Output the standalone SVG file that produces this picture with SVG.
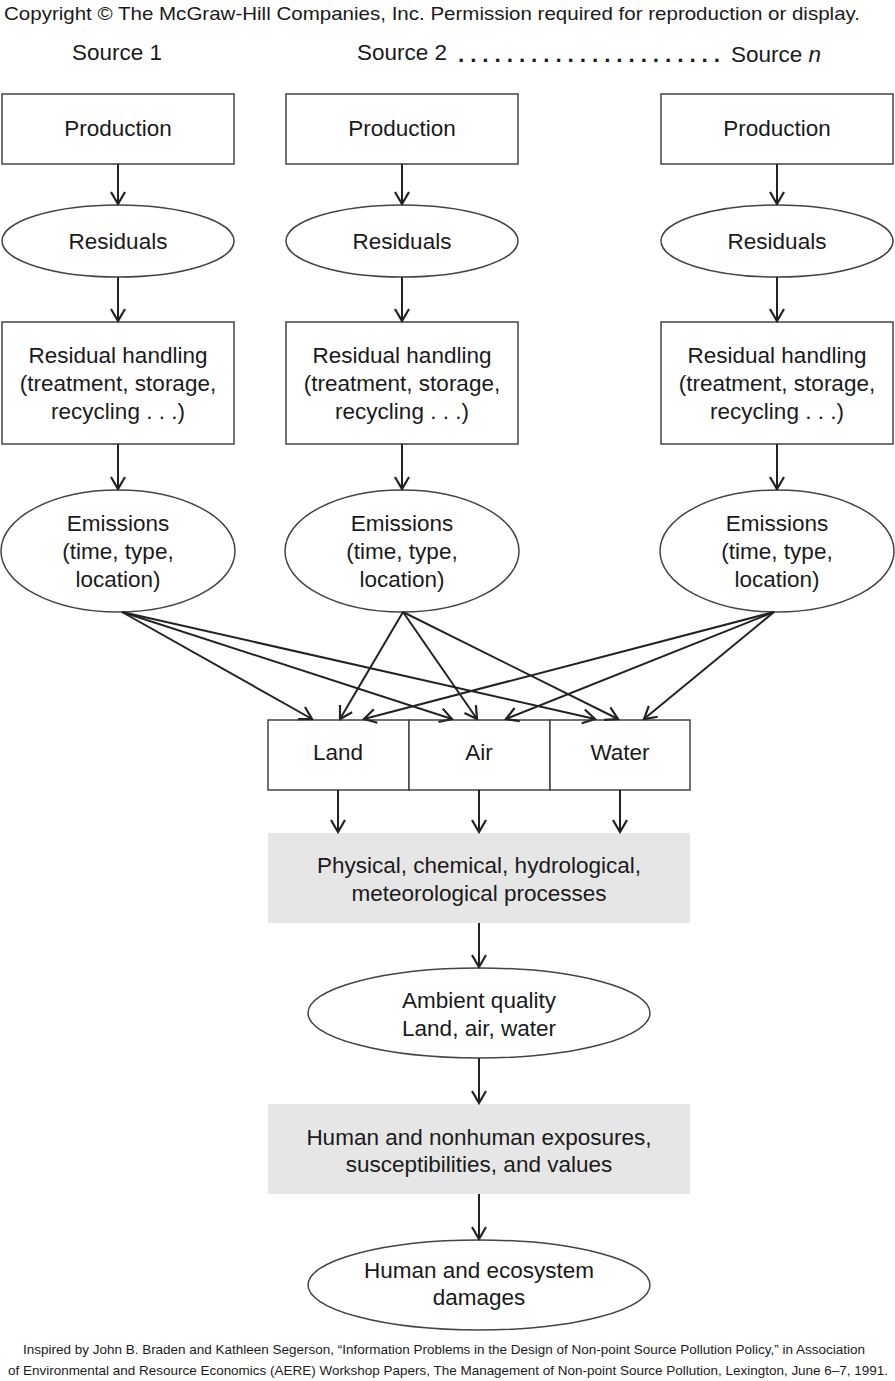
<svg xmlns="http://www.w3.org/2000/svg" width="895" height="1381" viewBox="0 0 895 1381">
<style>
text{font-family:"Liberation Sans",Arial,sans-serif;fill:#1a1a1a}
.t{font-size:22.5px;text-anchor:middle}
.box{fill:#fff;stroke:#444;stroke-width:1.5}
.grey{fill:#e6e6e6;stroke:none}
.edge{stroke:#222;stroke-width:2;fill:none;marker-end:url(#ah)}
.small{font-size:13.5px}
</style>
<defs>
<marker id="ah" viewBox="0 0 18 18" refX="16" refY="9" markerWidth="18" markerHeight="18" markerUnits="userSpaceOnUse" orient="auto">
<polyline points="4,2 16,9 4,16" fill="none" stroke="#222" stroke-width="2.2"/>
</marker>
</defs>
<rect width="895" height="1381" fill="#fff"/>

<g id="header">
<text x="432" y="20" style="font-size:19px" text-anchor="middle" textLength="856" lengthAdjust="spacingAndGlyphs">Copyright © The McGraw-Hill Companies, Inc. Permission required for reproduction or display.</text>
<text class="t" x="117" y="60">Source 1</text>
<text class="t" x="402" y="60">Source 2</text>
<text x="458" y="62" style="font-size:22.5px;font-weight:bold" textLength="262" lengthAdjust="spacing">......................</text>
<text x="731" y="62" style="font-size:22.5px">Source <tspan font-style="italic">n</tspan></text>
</g>

<g id="prod1"><rect class="box" x="2" y="94" width="232" height="70"/><text class="t" x="118" y="136">Production</text></g>
<g id="prod2"><rect class="box" x="286" y="94" width="232" height="70"/><text class="t" x="402" y="136">Production</text></g>
<g id="prod3"><rect class="box" x="661" y="94" width="232" height="70"/><text class="t" x="777" y="136">Production</text></g>

<g id="res1"><ellipse class="box" cx="118" cy="241" rx="116" ry="36"/><text class="t" x="118" y="249">Residuals</text></g>
<g id="res2"><ellipse class="box" cx="402" cy="241" rx="116" ry="36"/><text class="t" x="402" y="249">Residuals</text></g>
<g id="res3"><ellipse class="box" cx="777" cy="241" rx="116" ry="36"/><text class="t" x="777" y="249">Residuals</text></g>

<g id="hand1"><rect class="box" x="2" y="322" width="232" height="122"/><text class="t" x="118" y="363">Residual handling</text><text class="t" x="118" y="391">(treatment, storage,</text><text class="t" x="118" y="419">recycling . . .)</text></g>
<g id="hand2"><rect class="box" x="286" y="322" width="232" height="122"/><text class="t" x="402" y="363">Residual handling</text><text class="t" x="402" y="391">(treatment, storage,</text><text class="t" x="402" y="419">recycling . . .)</text></g>
<g id="hand3"><rect class="box" x="661" y="322" width="232" height="122"/><text class="t" x="777" y="363">Residual handling</text><text class="t" x="777" y="391">(treatment, storage,</text><text class="t" x="777" y="419">recycling . . .)</text></g>

<g id="em1"><ellipse class="box" cx="118" cy="551" rx="117" ry="61"/><text class="t" x="118" y="531">Emissions</text><text class="t" x="118" y="559">(time, type,</text><text class="t" x="118" y="587">location)</text></g>
<g id="em2"><ellipse class="box" cx="402" cy="551" rx="117" ry="61"/><text class="t" x="402" y="531">Emissions</text><text class="t" x="402" y="559">(time, type,</text><text class="t" x="402" y="587">location)</text></g>
<g id="em3"><ellipse class="box" cx="777" cy="551" rx="117" ry="61"/><text class="t" x="777" y="531">Emissions</text><text class="t" x="777" y="559">(time, type,</text><text class="t" x="777" y="587">location)</text></g>

<g id="land"><rect class="box" x="268" y="720" width="141" height="70"/><text class="t" x="338" y="760">Land</text></g>
<g id="air"><rect class="box" x="409" y="720" width="141" height="70"/><text class="t" x="479" y="760">Air</text></g>
<g id="water"><rect class="box" x="550" y="720" width="140" height="70"/><text class="t" x="620" y="760">Water</text></g>

<g id="processes"><rect class="grey" x="268" y="833" width="422" height="90"/><text class="t" x="479" y="873">Physical, chemical, hydrological,</text><text class="t" x="479" y="901">meteorological processes</text></g>
<g id="ambient"><ellipse class="box" cx="479" cy="1013" rx="171" ry="45"/><text class="t" x="479" y="1008">Ambient quality</text><text class="t" x="479" y="1036">Land, air, water</text></g>
<g id="exposures"><rect class="grey" x="268" y="1104" width="422" height="90"/><text class="t" x="479" y="1145">Human and nonhuman exposures,</text><text class="t" x="479" y="1172">susceptibilities, and values</text></g>
<g id="damages"><ellipse class="box" cx="479" cy="1285" rx="171" ry="45"/><text class="t" x="479" y="1278">Human and ecosystem</text><text class="t" x="479" y="1305">damages</text></g>

<g id="connectors">
<line class="edge" x1="118" y1="164" x2="118" y2="204"/>
<line class="edge" x1="402" y1="164" x2="402" y2="204"/>
<line class="edge" x1="777" y1="164" x2="777" y2="204"/>
<line class="edge" x1="118" y1="277" x2="118" y2="321"/>
<line class="edge" x1="402" y1="277" x2="402" y2="321"/>
<line class="edge" x1="777" y1="277" x2="777" y2="321"/>
<line class="edge" x1="118" y1="444" x2="118" y2="489"/>
<line class="edge" x1="402" y1="444" x2="402" y2="489"/>
<line class="edge" x1="777" y1="444" x2="777" y2="489"/>

<line class="edge" x1="122" y1="612" x2="312" y2="719"/>
<line class="edge" x1="122" y1="612" x2="452" y2="719"/>
<line class="edge" x1="122" y1="612" x2="595" y2="719"/>
<line class="edge" x1="403" y1="612" x2="340" y2="719"/>
<line class="edge" x1="403" y1="612" x2="477" y2="719"/>
<line class="edge" x1="403" y1="612" x2="618" y2="719"/>
<line class="edge" x1="774" y1="612" x2="364" y2="719"/>
<line class="edge" x1="774" y1="612" x2="506" y2="719"/>
<line class="edge" x1="774" y1="612" x2="644" y2="719"/>

<line class="edge" x1="338" y1="790" x2="338" y2="832"/>
<line class="edge" x1="479" y1="790" x2="479" y2="832"/>
<line class="edge" x1="620" y1="790" x2="620" y2="832"/>
<line class="edge" x1="479" y1="923" x2="479" y2="967"/>
<line class="edge" x1="479" y1="1058" x2="479" y2="1103"/>
<line class="edge" x1="479" y1="1194" x2="479" y2="1239"/>
</g>

<g id="caption">
<text class="small" x="444" y="1354" text-anchor="middle" textLength="842" lengthAdjust="spacingAndGlyphs">Inspired by John B. Braden and Kathleen Segerson, “Information Problems in the Design of Non-point Source Pollution Policy,” in Association</text>
<text class="small" x="448" y="1375" text-anchor="middle" textLength="880" lengthAdjust="spacingAndGlyphs">of Environmental and Resource Economics (AERE) Workshop Papers, The Management of Non-point Source Pollution, Lexington, June 6–7, 1991.</text>
</g>
</svg>
